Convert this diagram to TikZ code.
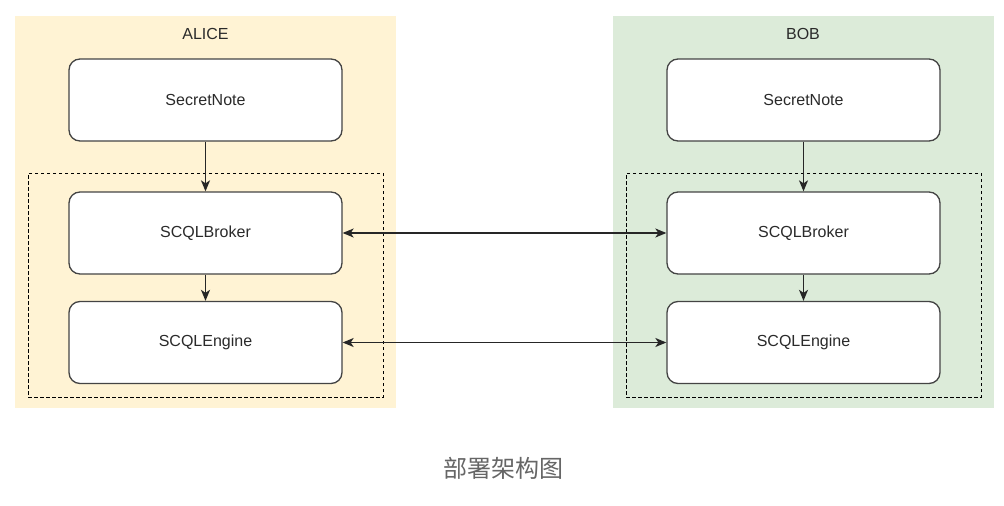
\documentclass[tikz,border=0pt]{standalone}
\usepackage{fontspec}
\setmainfont{Liberation Sans}
\newfontfamily\cjk{Noto Sans CJK SC}
\usetikzlibrary{arrows.meta}
\definecolor{alicebg}{HTML}{FFF3D4}
\definecolor{bobbg}{HTML}{DCEBD9}
\definecolor{edgec}{HTML}{444444}
\definecolor{txtc}{HTML}{2A2A2A}
\definecolor{capc}{HTML}{666666}
\begin{document}
\begin{tikzpicture}[x=1pt,y=-1pt,
  comp/.style={draw=edgec, line width=1.3pt, rounded corners=11pt, fill=white,
    minimum width=273pt, minimum height=82pt, inner sep=0pt,
    font=\fontsize{16}{19}\selectfont, text=txtc},
  area/.style={draw=none, inner sep=0pt, minimum width=381pt, minimum height=392pt},
  grp/.style={draw=black, line width=1pt, dash pattern=on 3.5pt off 2.5pt, inner sep=0pt,
    minimum width=355pt, minimum height=224pt},
  lbl/.style={font=\fontsize{16}{19}\selectfont, text=txtc},
  tip/.style={},
  arr/.style={draw=black!85, line width=1.3pt, -{Stealth[length=11pt,width=9pt,inset=3pt]}},
  darr/.style={draw=black!85, line width=1.3pt, {Stealth[length=11pt,width=9pt,inset=3pt]}-{Stealth[length=11pt,width=9pt,inset=3pt]}}
]
\useasboundingbox (0,0) rectangle (1004,506);
\fill[white] (0,0) rectangle (1004,506);

% containers
\node[area, fill=alicebg] (alice) at (205.5,212) {};
\node[area, fill=bobbg] (bob) at (803,212) {};
\node[lbl] (alicelbl) at (205.5,34) {ALICE};
\node[lbl] (boblbl) at (803,34) {BOB};

% dashed groups
\node[grp] (ag) at (205.5,285) {};
\node[grp] (bg) at (803.5,285) {};

% components
\node[comp] (an) at (205.5,100) {SecretNote};
\node[comp] (ab) at (205.5,233) {SCQLBroker};
\node[comp] (ae) at (205.5,342.5) {SCQLEngine};
\node[comp] (bn) at (803.5,100) {SecretNote};
\node[comp] (bb) at (803.5,233) {SCQLBroker};
\node[comp] (be) at (803.5,342.5) {SCQLEngine};

% connectors
\draw[arr] (an.south) -- (ab.north);
\draw[arr] (ab.south) -- (ae.north);
\draw[arr] (bn.south) -- (bb.north);
\draw[arr] (bb.south) -- (be.north);
\draw[darr] (ab.east) -- (bb.west);
\draw[darr] (ae.east) -- (be.west);

% caption
\node[font=\cjk\fontsize{24}{27}\selectfont, text=capc] (cap) at (503,468) {部署架构图};
\end{tikzpicture}
\end{document}
